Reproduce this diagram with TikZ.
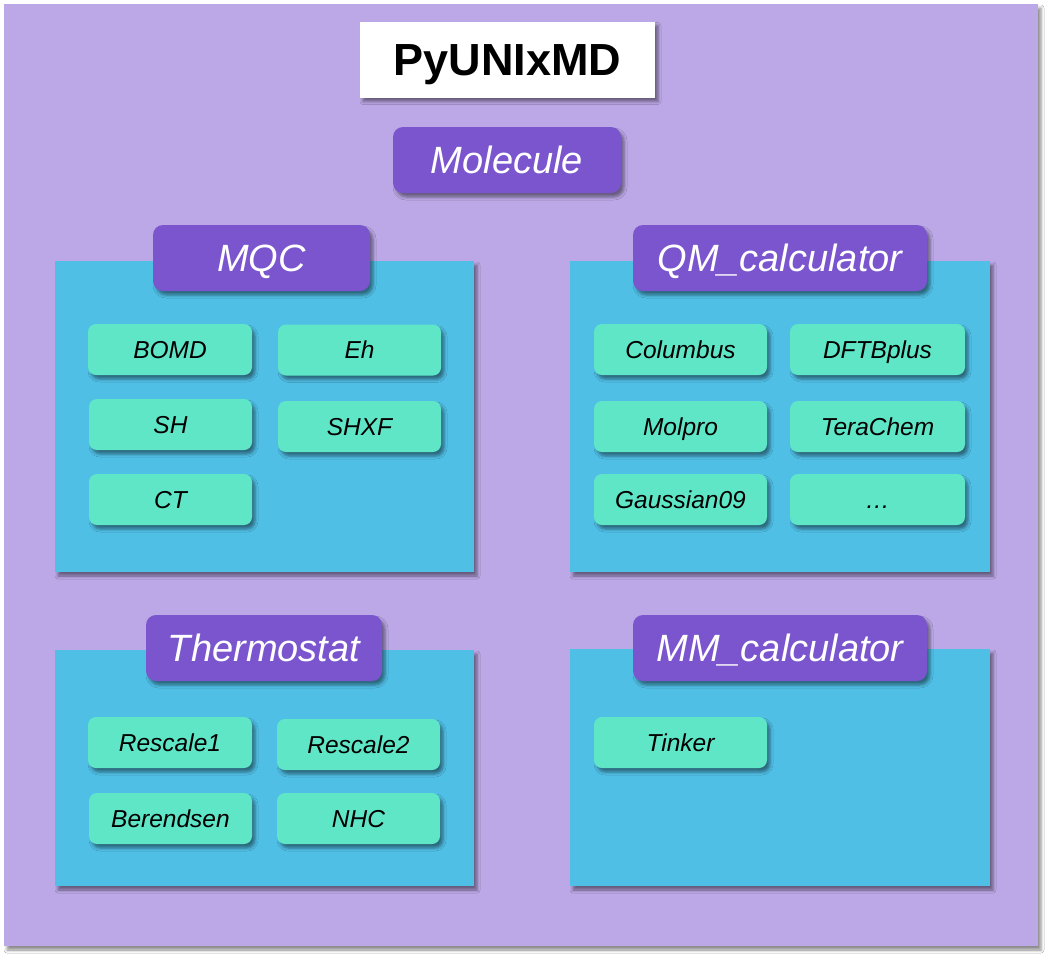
\documentclass[tikz,border=0pt]{standalone}
\usepackage{fontspec}
\setmainfont{Liberation Sans}
\usetikzlibrary{shadows.blur}
\definecolor{bgpurple}{HTML}{BCA8E6}
\definecolor{hdpurple}{HTML}{7A55CE}
\definecolor{panelblue}{HTML}{50BFE6}
\definecolor{itemgreen}{HTML}{5EE6C6}
\tikzset{
  shd/.style={blur shadow={shadow xshift=3pt, shadow yshift=-4pt, shadow blur radius=3pt, shadow opacity=45}},
  panel/.style={shd, fill=panelblue, draw=none, rectangle, inner sep=0pt},
  header/.style={shd, fill=hdpurple, draw=none, rectangle, rounded corners=10pt, minimum height=66pt, text=white, font=\fontsize{38}{44}\selectfont\itshape, inner sep=0pt, text height=27.3pt, text depth=0pt},
  item/.style={shd, fill=itemgreen, draw=none, rectangle, rounded corners=8pt, minimum height=51pt, text=black, font=\fontsize{24.5}{28}\selectfont\itshape, inner sep=0pt, text height=17.6pt, text depth=0pt},
  titlebox/.style={shd, fill=white, draw=none, rectangle, minimum width=295pt, minimum height=76pt, font=\fontsize{45}{52}\selectfont\bfseries, inner sep=0pt, text height=32.5pt, text depth=0pt}
}
\begin{document}
\begin{tikzpicture}[x=1pt,y=-1pt]
\useasboundingbox (0,0) rectangle (1051,959);
\fill[white] (0,0) rectangle (1051,959);
% background
\node[shd, fill=bgpurple, rectangle, inner sep=0pt, minimum width=1034pt, minimum height=942pt] (bg) at (521,475) {};
% title
\node[titlebox] (title) at (507.5,59.5) {PyUNIxMD};
\node[header, minimum width=228pt] (molecule) at (507,160) {Molecule};
% panels
\node[panel, minimum width=419pt, minimum height=311pt] (mqcp) at (264.5,416.5) {};
\node[panel, minimum width=420pt, minimum height=311pt] (qmp) at (780,416.5) {};
\node[panel, minimum width=419pt, minimum height=236pt] (thp) at (264.5,768) {};
\node[panel, minimum width=420pt, minimum height=237pt] (mmp) at (780,767.5) {};
% headers
\node[header, minimum width=217pt] (mqc) at (261.5,258) {MQC};
\node[header, minimum width=294pt] (qm) at (780,258) {QM\_calculator};
\node[header, minimum width=236pt] (thermo) at (264,648) {Thermostat};
\node[header, minimum width=294pt] (mm) at (780,648) {MM\_calculator};
% MQC items
\node[item, minimum width=164pt] (bomd) at (170,349.5) {BOMD};
\node[item, minimum width=163pt] (eh) at (359.5,350) {Eh};
\node[item, minimum width=163pt] (sh) at (170.5,424.5) {SH};
\node[item, minimum width=163pt] (shxf) at (359.5,426.5) {SHXF};
\node[item, minimum width=163pt] (ct) at (170.5,499.5) {CT};
% QM items
\node[item, minimum width=173pt] (columbus) at (680.5,349.5) {Columbus};
\node[item, minimum width=175pt] (dftb) at (877.5,349.5) {DFTBplus};
\node[item, minimum width=173pt] (molpro) at (680.5,426.5) {Molpro};
\node[item, minimum width=175pt] (tera) at (877.5,426.5) {TeraChem};
\node[item, minimum width=173pt] (gauss) at (680.5,499.5) {Gaussian09};
\node[item, minimum width=175pt] (dots) at (877.5,499.5) {\dots};
% Thermostat items
\node[item, minimum width=164pt] (rescale1) at (170,742.5) {Rescale1};
\node[item, minimum width=163pt] (rescale2) at (358.5,744.5) {Rescale2};
\node[item, minimum width=163pt] (berendsen) at (170.5,818.5) {Berendsen};
\node[item, minimum width=163pt] (nhc) at (358.5,818.5) {NHC};
% MM items
\node[item, minimum width=173pt] (tinker) at (680.5,742.5) {Tinker};
\end{tikzpicture}
\end{document}
